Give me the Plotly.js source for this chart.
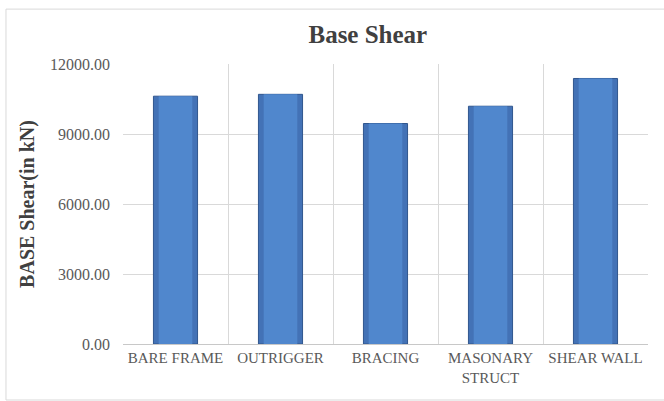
<!DOCTYPE html>
<html>
<head>
<meta charset="utf-8">
<script src="https://cdn.plot.ly/plotly-3.0.1.min.js"></script>
<style>
  html, body { margin: 0; padding: 0; background: #ffffff; }
  #chart { width: 664px; height: 401px; }
</style>
</head>
<body>
<div id="chart"></div>
<script>
// Structural systems compared and their base shear (kN)
const systems = ['BARE FRAME', 'OUTRIGGER', 'BRACING', 'MASONARY<br>STRUCT', 'SHEAR WALL'];
const baseShear = [10620, 10700, 9450, 10190, 11380];
const yTicks = [0, 3000, 6000, 9000, 12000];

const serif = 'Liberation Serif, Times New Roman, serif';
const labelGrey = '#595959';

// Bars are drawn as an outer darker body with a lighter core on top,
// giving the bevelled column look.
const outer = {
  type: 'bar',
  x: systems,
  y: baseShear,
  width: 0.42,
  marker: { color: '#4372b6', line: { color: '#30568e', width: 1 } },
  hoverinfo: 'skip'
};
const core = {
  type: 'bar',
  x: systems,
  y: baseShear,
  width: 0.32,
  marker: { color: '#5087cd', line: { width: 0 } },
  hoverinfo: 'skip'
};

const layout = {
  width: 664,
  height: 401,
  margin: { l: 123, r: 16, t: 64, b: 57 },
  paper_bgcolor: '#ffffff',
  plot_bgcolor: '#ffffff',
  showlegend: false,
  barmode: 'overlay',
  font: { family: serif, color: labelGrey },
  title: {
    text: '<b>Base Shear</b>',
    font: { family: serif, size: 25, color: '#404040' },
    x: 0.554, xanchor: 'center', xref: 'container',
    y: 0.915, yanchor: 'middle', yref: 'container'
  },
  xaxis: {
    type: 'category',
    tickson: 'boundaries',
    showgrid: true,
    gridcolor: '#d9d9d9',
    gridwidth: 1,
    showline: true,
    linecolor: '#c8c8c8',
    linewidth: 1,
    ticks: '',
    tickfont: { family: serif, size: 15, color: labelGrey },
    fixedrange: true
  },
  yaxis: {
    range: [0, 12000],
    tickvals: yTicks,
    tickformat: '.2f',
    showgrid: true,
    gridcolor: '#d9d9d9',
    gridwidth: 1,
    zeroline: false,
    showline: false,
    ticks: '',
    ticklabelstandoff: 12,
    tickfont: { family: serif, size: 16, color: labelGrey },
    title: {
      text: '<b>BASE Shear(in kN)</b>',
      font: { family: serif, size: 20, color: '#404040' },
      standoff: 10
    },
    fixedrange: true
  },
  shapes: [
    {
      type: 'rect', xref: 'paper', yref: 'paper',
      x0: -0.2229, x1: 1.05, y0: -0.2, y1: 1.196,
      line: { color: '#d9d9d9', width: 1 },
      fillcolor: 'rgba(0,0,0,0)',
      layer: 'below'
    }
  ]
};

Plotly.newPlot('chart', [outer, core], layout, { displayModeBar: false, staticPlot: true });
</script>
</body>
</html>
